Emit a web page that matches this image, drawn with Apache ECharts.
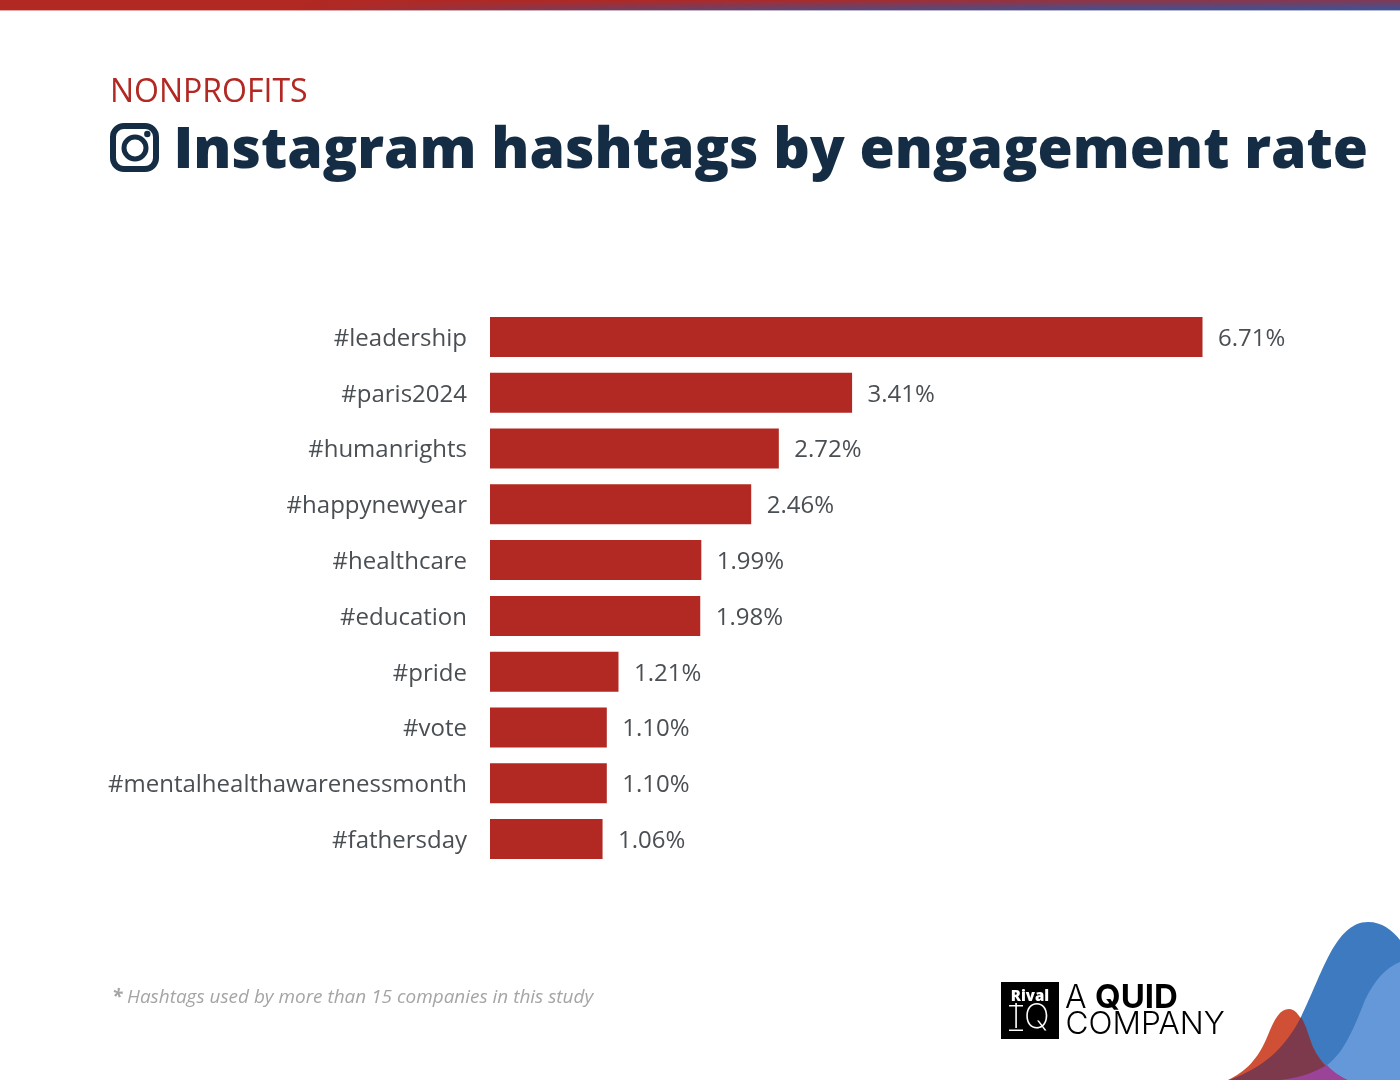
<!DOCTYPE html>
<html><head><meta charset="utf-8">
<style>html,body{margin:0;padding:0;background:#fff}#c{width:1400px;height:1080px}</style>
<script src="https://cdn.jsdelivr.net/npm/echarts@6/dist/echarts.min.js"></script>
</head><body><div id="c"></div>
<script>
const categories = ['#leadership','#paris2024','#humanrights','#happynewyear','#healthcare','#education','#pride','#vote','#mentalhealthawarenessmonth','#fathersday'];
const values = [6.71,3.41,2.72,2.46,1.99,1.98,1.21,1.10,1.10,1.06];
const FONT = '"Open Sans", sans-serif';
const LOGOFONT = 'Inter, "Open Sans", sans-serif';
const chart = echarts.init(document.getElementById('c'), null, {renderer:'canvas'});
const txt = (x,y,text,font,fill,extra) => ({type:'text',x,y,silent:true,style:Object.assign({text,font,fill,textVerticalAlign:'middle'},extra||{})});
const BLOBS = {
  blobBlue:'M1229 1080 C1262 1068 1284 1050 1301 1017 C1322 975 1335 922 1368 922 C1382 922 1392 930 1400 940 L1400 1080 Z',
  blobLight:'M1280 1080 C1300 1078 1315 1072 1327 1065 C1345 1052 1355 1025 1365 1000 C1375 980 1385 968 1400 962 L1400 1080 Z',
  blobRed:'M1228 1080 C1245 1072 1258 1060 1268 1035 C1275 1018 1280 1009 1289 1009 C1300 1009 1306 1030 1313 1047 C1320 1062 1330 1072 1347 1080 Z',
  blobDark:'M1229 1080 C1262 1068 1284 1050 1301 1017 C1306 1025 1309 1037 1313 1047 C1320 1062 1330 1072 1347 1080 Z',
  blobPurple:'M1280 1080 C1300 1078 1315 1072 1327 1065 C1333 1072 1340 1076 1347 1080 Z'
};
Object.keys(BLOBS).forEach(k => echarts.graphic.registerShape(k, echarts.graphic.extendPath(BLOBS[k], {})));
const blob = (type,fill,z) => ({type,silent:true,z,shape:{},style:{fill}});
// Top band: one-pixel rows whose horizontal gradient blends from red to blue
const bandX = [0,300,600,800,1100,1400];
const bandTop = [0,0,0.03,0.1,0.3,0.45];
const bandBottom = [0,0,0.5,0.75,0.95,1];
const mix = t => {
  const a=[178,40,34], b=[58,83,155];
  return 'rgb('+a.map((v,i)=>Math.round(v+(b[i]-v)*t)).join(',')+')';
};
const bandRows = Array.from({length:11},(_,y)=>({
  type:'rect',silent:true,shape:{x:0,y,width:1400,height:1},
  style:{opacity:y===10?0.4:1,fill:new echarts.graphic.LinearGradient(0,0,1,0,
    bandX.map((x,i)=>({offset:x/1400,color:mix(bandTop[i]+(bandBottom[i]-bandTop[i])*y/10)})))}
}));
chart.setOption({
  animation:false,
  backgroundColor:'#fff',
  grid:{left:490,top:309,width:712.5,height:558,containLabel:false},
  xAxis:{type:'value',min:0,max:6.71,show:false},
  yAxis:{type:'category',inverse:true,data:categories,
    axisLine:{show:false},axisTick:{show:false},splitLine:{show:false},
    axisLabel:{margin:23,formatter:v=>'{t|'+v+'}',
      rich:{t:{fontFamily:FONT,fontSize:24,color:'#4a4f54',padding:[4,0,0,0]}}}},
  series:[{type:'bar',data:values,barWidth:40,
    itemStyle:{color:'#b22822'},
    label:{show:true,position:'right',distance:15.5,offset:[0,2],fontFamily:FONT,fontSize:24,color:'#4a4f54',
      formatter:p=>p.value.toFixed(2)+'%'}}],
  graphic:{elements:bandRows.concat([
    txt(110,93,'NONPROFITS','400 32px '+FONT,'#b22822'),
    {type:'rect',silent:true,shape:{x:113,y:126,width:43,height:43,r:11},style:{fill:'none',stroke:'#142c44',lineWidth:6}},
    {type:'circle',silent:true,shape:{cx:135,cy:148,r:11},style:{fill:'none',stroke:'#142c44',lineWidth:5}},
    {type:'circle',silent:true,shape:{cx:147.3,cy:134,r:3.2},style:{fill:'#142c44'}},
    txt(173.5,152,'Instagram hashtags by engagement rate','800 57px '+FONT,'#142c44'),
    txt(112,998,'*','italic 700 19px '+FONT,'#a5a5a5'),
    txt(127,998,'Hashtags used by more than 15 companies in this study','italic 400 18.95px '+FONT,'#a5a5a5'),
    {type:'rect',silent:true,shape:{x:1001,y:982,width:58,height:57},style:{fill:'#000'}},
    txt(1030,997,'Rival','800 15px '+FONT,'#fff',{textAlign:'center'}),
    txt(1016,1018,'I','200 34px '+LOGOFONT,'#fff',{textAlign:'center'}),
    {type:'rect',silent:true,shape:{x:1009,y:1005,width:14,height:1.5},style:{fill:'#fff'}},
    {type:'rect',silent:true,shape:{x:1009,y:1029.5,width:14,height:1.5},style:{fill:'#fff'}},
    txt(1024,1018,'Q','200 34px '+LOGOFONT,'#fff'),
    txt(1065,998,'A','300 32px '+LOGOFONT,'#000'),
    txt(1095,998,'QUID','700 33px '+LOGOFONT,'#000'),
    txt(1065.5,1024,'COMPANY','300 31.6px '+LOGOFONT,'#000'),
    blob('blobBlue','#3d7ac0',1),
    blob('blobLight','#6598d8',2),
    blob('blobRed','#d05035',3),
    blob('blobDark','#7d3a4d',4),
    blob('blobPurple','#9b4398',5)
  ])}
});
</script></body></html>
